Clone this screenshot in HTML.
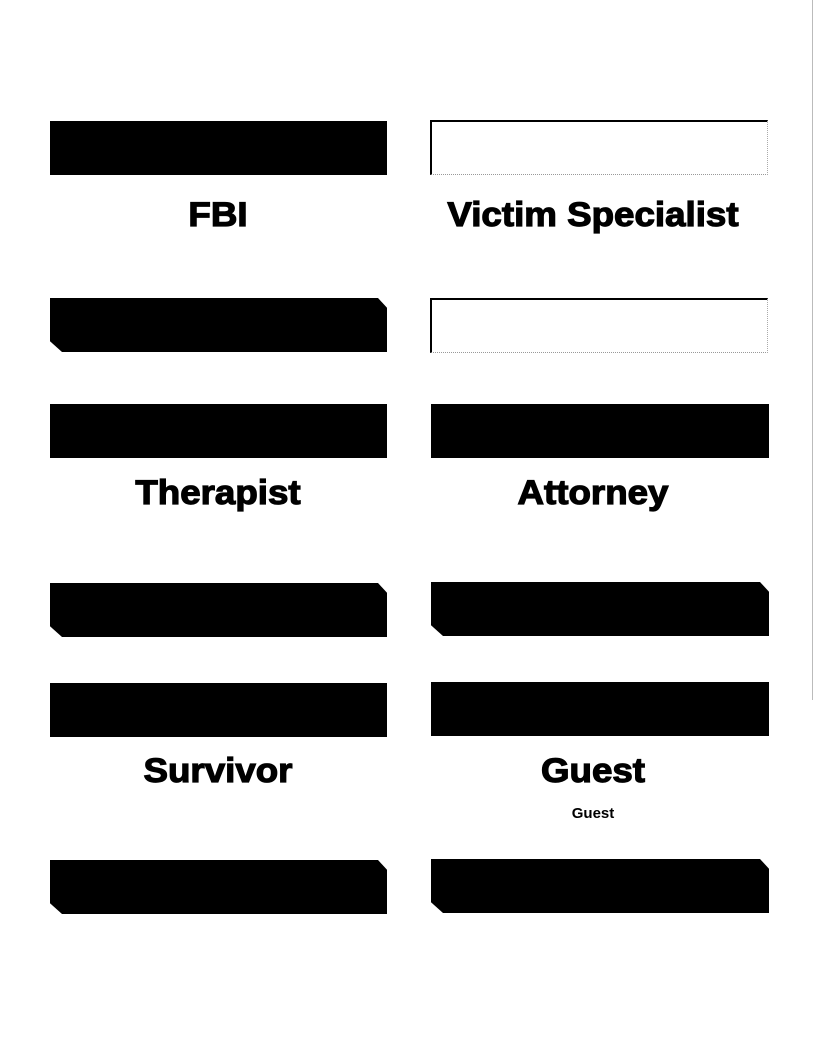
<!DOCTYPE html>
<html><head><meta charset="utf-8"><style>
body{margin:0;width:816px;height:1057px;background:#fff;position:relative;overflow:hidden;font-family:"Liberation Sans",sans-serif}
.b{position:absolute;background:#000}
.c{clip-path:polygon(0 0,calc(100% - 9px) 0,100% 18%,100% 100%,12px 100%,0 80%)}
.w{position:absolute;border-top:2px solid #000;border-left:2px solid #000;box-sizing:border-box;border-bottom:1px dotted #999;border-right:1px dotted #aaa}
.t{position:absolute;font-weight:bold;font-size:34px;text-align:center;width:340px;transform:scaleX(1.08);line-height:40px;-webkit-text-stroke:1.2px #000}
</style></head><body>
<div style="position:absolute;left:812px;top:0;width:1px;height:700px;background:#bbb"></div>
<div class="b" style="left:50px;top:121px;width:337px;height:54px"></div>
<div class="w" style="left:430px;top:120px;width:338px;height:55px"></div>
<div class="t" style="left:48px;top:195px">FBI</div>
<div class="t" style="left:423px;top:195px">Victim Specialist</div>

<div class="b c" style="left:50px;top:298px;width:337px;height:54px"></div>
<div class="w" style="left:430px;top:298px;width:338px;height:55px"></div>

<div class="b" style="left:50px;top:404px;width:337px;height:54px"></div>
<div class="b" style="left:431px;top:404px;width:338px;height:54px"></div>
<div class="t" style="left:48px;top:473px">Therapist</div>
<div class="t" style="left:423px;top:473px">Attorney</div>

<div class="b c" style="left:50px;top:583px;width:337px;height:54px"></div>
<div class="b c" style="left:431px;top:582px;width:338px;height:54px"></div>

<div class="b" style="left:50px;top:683px;width:337px;height:54px"></div>
<div class="b" style="left:431px;top:682px;width:338px;height:54px"></div>
<div class="t" style="left:48px;top:751px">Survivor</div>
<div class="t" style="left:423px;top:751px">Guest</div>
<div style="position:absolute;left:423px;top:805px;width:340px;text-align:center;font-weight:bold;font-size:15px">Guest</div>

<div class="b c" style="left:50px;top:860px;width:337px;height:54px"></div>
<div class="b c" style="left:431px;top:859px;width:338px;height:54px"></div>
</body></html>
